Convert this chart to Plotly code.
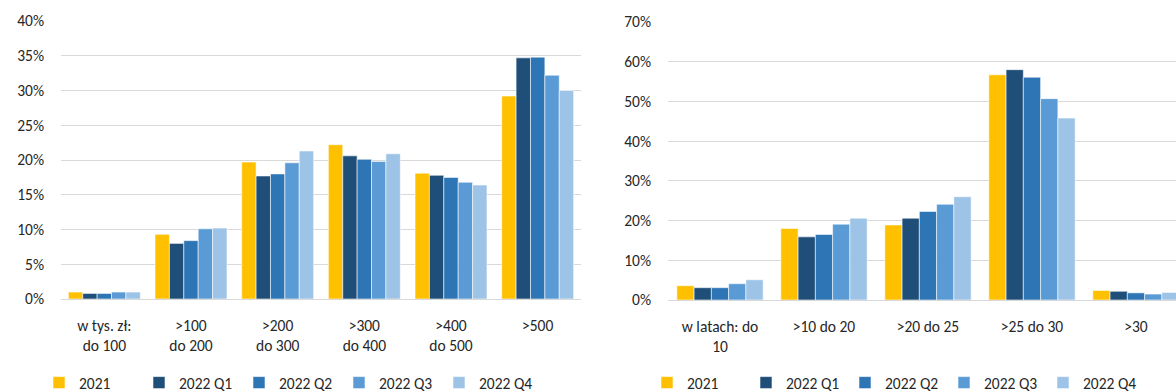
import plotly.graph_objects as go

# Series names and colours
series = ["2021", "2022 Q1", "2022 Q2", "2022 Q3", "2022 Q4"]
colors = ["#FFC000", "#1F4E79", "#2E75B6", "#5B9BD5", "#9DC3E6"]

# Left panel: loan amount buckets (thousand PLN)
amount_labels = ["w tys. zł:<br>do 100", ">100<br>do 200", ">200<br>do 300",
                 ">300<br>do 400", ">400<br>do 500", ">500"]
amount_2021 = [1.0, 9.3, 19.7, 22.2, 18.1, 29.2]
amount_q1 = [0.8, 8.0, 17.7, 20.6, 17.8, 34.7]
amount_q2 = [0.8, 8.4, 18.0, 20.1, 17.5, 34.8]
amount_q3 = [1.0, 10.1, 19.6, 19.8, 16.8, 32.2]
amount_q4 = [1.0, 10.2, 21.3, 20.9, 16.4, 30.0]

# Right panel: loan term buckets (years)
term_labels = ["w latach: do<br>10", ">10 do 20", ">20 do 25", ">25 do 30", ">30"]
term_2021 = [3.6, 18.0, 18.9, 56.7, 2.4]
term_q1 = [3.1, 15.9, 20.6, 58.0, 2.2]
term_q2 = [3.1, 16.5, 22.3, 56.1, 1.8]
term_q3 = [4.1, 19.1, 24.1, 50.7, 1.5]
term_q4 = [5.1, 20.6, 26.0, 45.8, 1.9]

amount_series = [amount_2021, amount_q1, amount_q2, amount_q3, amount_q4]
term_series = [term_2021, term_q1, term_q2, term_q3, term_q4]

W, H = 1176, 392
FONT = "Carlito, Calibri, Lato, sans-serif"
TEXT = "#262626"
GRID = "#D9D9D9"

fig = go.Figure()

for name, col, vals in zip(series, colors, amount_series):
    fig.add_trace(go.Bar(
        x=amount_labels, y=vals, name=name, marker_color=col,
        marker_line=dict(color="rgba(255,255,255,0.7)", width=0.8),
        xaxis="x", yaxis="y", legend="legend",
    ))

for name, col, vals in zip(series, colors, term_series):
    fig.add_trace(go.Bar(
        x=term_labels, y=vals, name=name, marker_color=col,
        marker_line=dict(color="rgba(255,255,255,0.7)", width=0.8),
        xaxis="x2", yaxis="y2", legend="legend2",
    ))

axis_font = dict(family=FONT, size=15.5, color=TEXT)
legend_font = dict(family=FONT, size=15.5, color=TEXT)

fig.update_layout(
    width=W, height=H,
    margin=dict(l=0, r=0, t=0, b=0, autoexpand=False),
    paper_bgcolor="white", plot_bgcolor="white",
    barmode="group", bargap=0.17, bargroupgap=0,
    font=dict(family=FONT, size=15.5, color=TEXT),
    xaxis=dict(
        domain=[61 / W, 581 / W], range=[-0.5, 5.5], type="category",
        showgrid=False, zeroline=False, showline=False, ticks="",
        tickfont=axis_font, ticklabelstandoff=15, automargin=False,
    ),
    yaxis=dict(
        domain=[(H - 299) / H, (H - 21) / H], range=[0, 40], dtick=5,
        ticksuffix="%", showgrid=True, gridcolor=GRID, gridwidth=1.3,
        zeroline=True, zerolinecolor=GRID, zerolinewidth=1.3,
        tickfont=axis_font, ticks="", ticklabelstandoff=16, automargin=False,
    ),
    xaxis2=dict(
        domain=[668 / W, 1.0], range=[-0.5, 4.385], type="category", anchor="y2",
        showgrid=False, zeroline=False, showline=False, ticks="",
        tickfont=axis_font, ticklabelstandoff=15, automargin=False,
    ),
    yaxis2=dict(
        domain=[(H - 300) / H, (H - 22) / H], range=[0, 70], dtick=10,
        ticksuffix="%", showgrid=True, gridcolor=GRID, gridwidth=1.3,
        zeroline=True, zerolinecolor=GRID, zerolinewidth=1.3,
        tickfont=axis_font, ticks="", ticklabelstandoff=16, anchor="x2",
        automargin=False,
    ),
    legend=dict(
        orientation="h", xref="container", yref="container",
        x=39 / W, xanchor="left", y=(H - 366) / H, yanchor="top",
        font=legend_font, bgcolor="rgba(0,0,0,0)",
        itemclick=False, entrywidth=55,
    ),
    legend2=dict(
        orientation="h", xref="container", yref="container",
        x=647 / W, xanchor="left", y=(H - 366) / H, yanchor="top",
        font=legend_font, bgcolor="rgba(0,0,0,0)",
        itemclick=False, entrywidth=54,
    ),
)

fig.write_html("out.html")
